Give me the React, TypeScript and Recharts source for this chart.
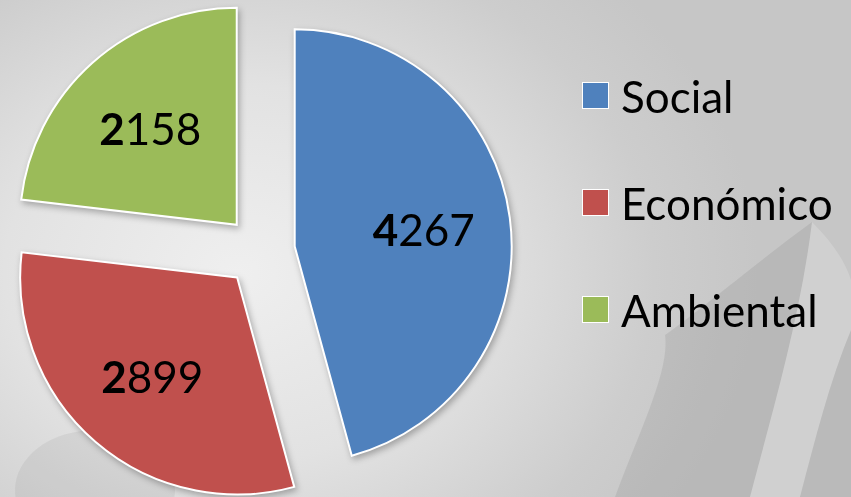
import { PieChart, Pie, Cell, Legend } from "recharts";

const NAMES = ["Social", "Económico", "Ambiental"];
const VALUES = [4267, 2899, 2158];
const COLORS = ["#4f81bd", "#c0504d", "#9bbb59"];

const WIDTH = 851;
const HEIGHT = 497;
const CX = 260;
const CY = 251;
const RADIUS = 217;
const EXPLODE = 35;
const RAD = Math.PI / 180;
const FONT = "Lato, 'Open Sans', sans-serif";

const data = NAMES.map((name, i) => ({ name, value: VALUES[i] }));

// mid angle of every slice, recharts convention (deg ccw from 3 o'clock)
const total = VALUES.reduce((a, b) => a + b, 0);
let acc = 0;
const midAngles = VALUES.map((v) => {
  const start = acc;
  acc += v;
  return 90 - ((start + v / 2) / total) * 360;
});

function renderLabel(props: any, own: number) {
  const { cx, cy, midAngle, outerRadius, index, value } = props;
  if (index !== own) return null;
  const r = outerRadius * 0.6;
  const x = cx + r * Math.cos(-midAngle * RAD);
  const y = cy + r * Math.sin(-midAngle * RAD);
  const s = String(value);
  return (
    <text
      x={x}
      y={y}
      textAnchor="middle"
      dominantBaseline="central"
      fontSize={44}
      fontFamily={FONT}
      fill="#000"
    >
      <tspan fontWeight="bold">{s[0]}</tspan>
      {s.slice(1)}
    </text>
  );
}

function LegendBox() {
  return (
    <div style={{ fontFamily: FONT }}>
      {NAMES.map((name, i) => (
        <div
          key={name}
          style={{ display: "flex", alignItems: "center", height: 107 }}
        >
          <span
            style={{
              width: 25,
              height: 25,
              background: COLORS[i],
              border: "1.5px solid #fff",
              marginRight: 12,
            }}
          />
          <span style={{ fontSize: 44, color: "#000", lineHeight: 1 }}>
            {name}
          </span>
        </div>
      ))}
    </div>
  );
}

export default function App() {
  return (
    <div
      style={{
        position: "fixed",
        left: 0,
        top: 0,
        width: WIDTH,
        height: HEIGHT,
        overflow: "hidden",
        background:
          "radial-gradient(ellipse 520px 420px at 28% 55%, #efefef 0%, #e2e2e2 45%, #cdcdcd 80%, #c6c6c6 100%)",
      }}
    >
      <style>{`.recharts-pie-sector path { filter: drop-shadow(2px 3px 3px rgba(0,0,0,0.28)); }`}</style>
      <svg
        width={WIDTH}
        height={HEIGHT}
        style={{ position: "absolute", left: 0, top: 0 }}
      >
        <path
          d="M 615 497 C 640 430, 670 370, 665 335 C 700 310, 760 260, 812 222 C 800 320, 770 420, 750 497 Z"
          fill="rgba(0,0,0,0.07)"
        />
        <path
          d="M 750 497 C 770 420, 800 320, 812 222 C 830 240, 845 260, 851 280 L 851 330 C 830 380, 815 440, 800 497 Z"
          fill="rgba(255,255,255,0.18)"
        />
        <path
          d="M 800 497 C 815 440, 830 380, 851 330 L 851 497 Z"
          fill="rgba(0,0,0,0.06)"
        />
        <ellipse cx={95} cy={490} rx={80} ry={60} fill="rgba(0,0,0,0.05)" />
      </svg>
      <PieChart
        width={WIDTH}
        height={HEIGHT}
        margin={{ top: 0, right: 0, bottom: 0, left: 0 }}
        style={{ position: "absolute", left: 0, top: 0 }}
      >
        {VALUES.map((_, own) => (
          <Pie
            key={own}
            data={data}
            dataKey="value"
            nameKey="name"
            cx={CX + EXPLODE * Math.cos(midAngles[own] * RAD)}
            cy={CY - EXPLODE * Math.sin(midAngles[own] * RAD)}
            outerRadius={RADIUS}
            startAngle={90}
            endAngle={-270}
            stroke="#fff"
            strokeWidth={2}
            labelLine={false}
            label={(p: any) => renderLabel(p, own)}
            isAnimationActive={false}
          >
            {data.map((d, i) => (
              <Cell
                key={d.name}
                fill={i === own ? COLORS[i] : "none"}
                stroke={i === own ? "#fff" : "none"}
              />
            ))}
          </Pie>
        ))}
        <Legend
          layout="vertical"
          content={() => <LegendBox />}
          wrapperStyle={{ left: 582, top: 42, width: 269 }}
        />
      </PieChart>
    </div>
  );
}
